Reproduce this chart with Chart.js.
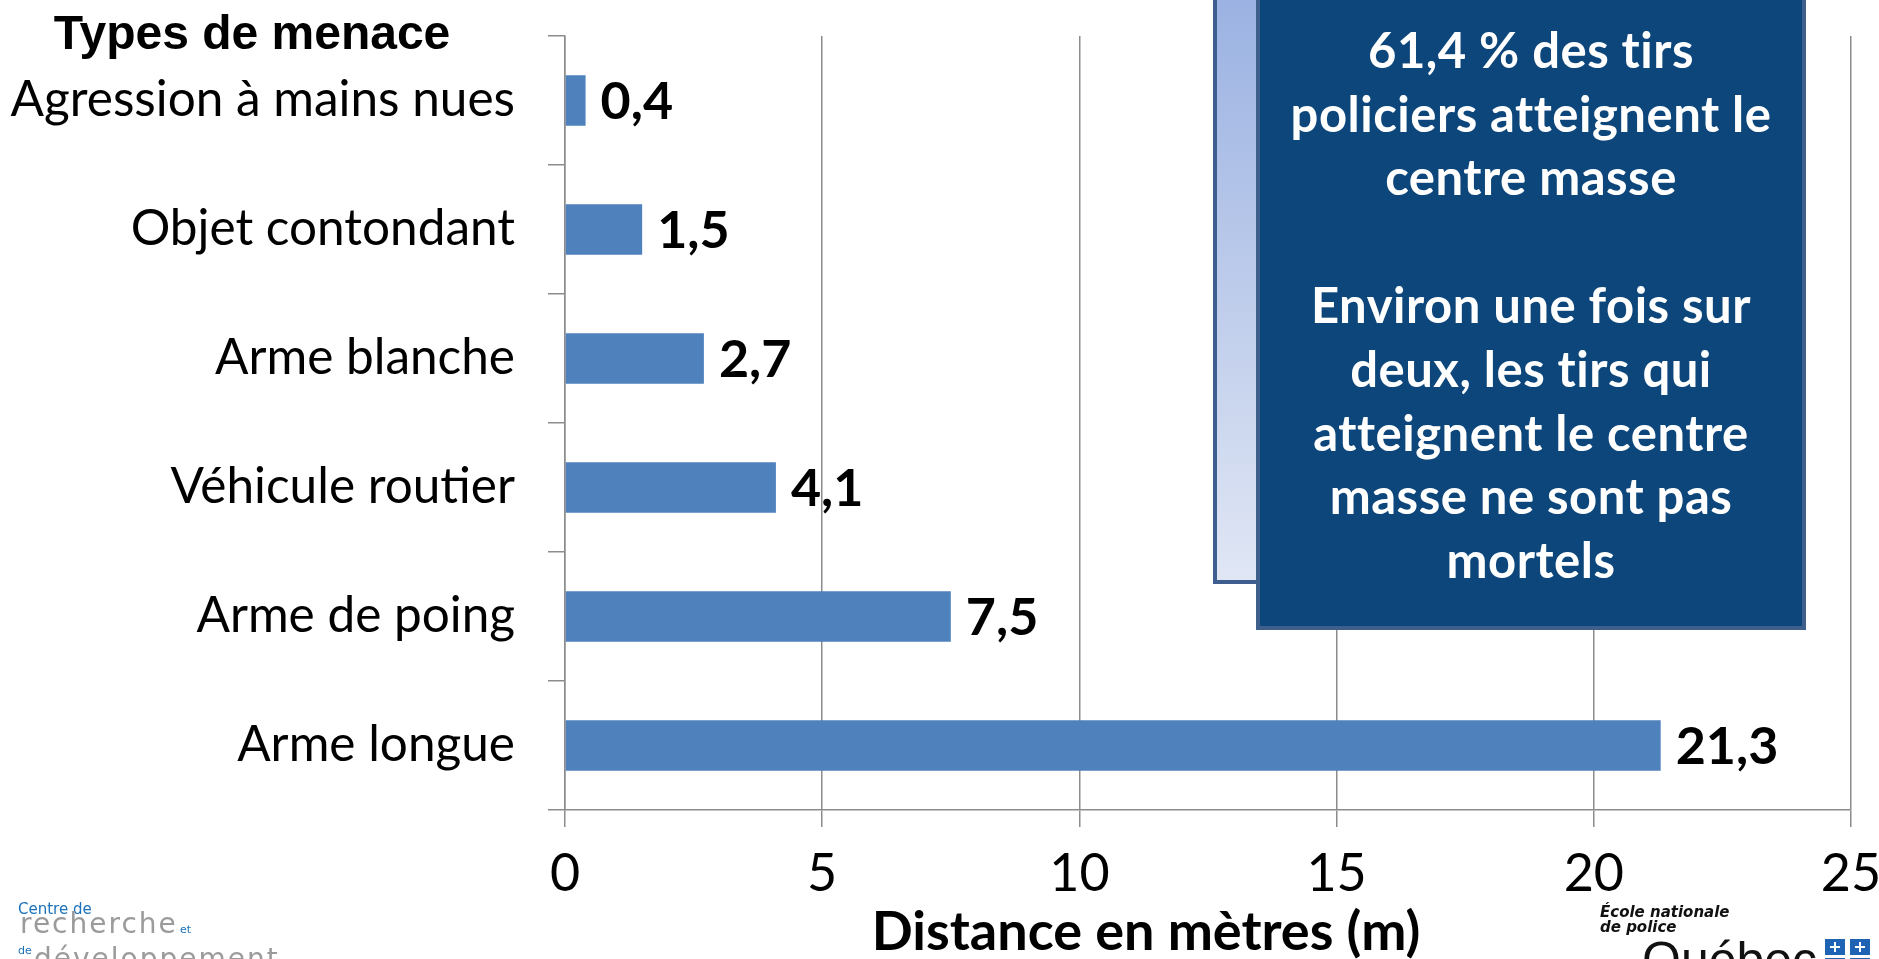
<!DOCTYPE html>
<html>
<head>
<meta charset="utf-8">
<script src="https://cdn.jsdelivr.net/npm/chart.js@4.4.1/dist/chart.umd.min.js"></script>
<style>
  html, body { margin: 0; padding: 0; background: #fff; overflow: hidden; }
</style>
</head>
<body>
<canvas id="myChart" width="1879" height="959"></canvas>
<script>
// Données du graphique
const categories = ['Agression à mains nues', 'Objet contondant', 'Arme blanche', 'Véhicule routier', 'Arme de poing', 'Arme longue'];
const distances = [0.4, 1.5, 2.7, 4.1, 7.5, 21.3];
const xTicks = [0, 5, 10, 15, 20, 25];
const yTitle = 'Types de menace';
const xTitle = 'Distance en mètres (m)';
const boxLines = ['61,4 % des tirs', 'policiers atteignent le', 'centre masse', '',
    'Environ une fois sur', 'deux, les tirs qui', 'atteignent le centre', 'masse ne sont pas', 'mortels'];

const fontMain = 'Lato, "Open Sans", sans-serif';

// Format 0,4 au lieu de 0.4
function frNum(v) {
    return v.toFixed(1).replace('.', ',');
}

// Étiquettes de valeur au bout des barres
const valueLabels = {
    id: 'valueLabels',
    afterDatasetsDraw(chart) {
        const ctx = chart.ctx;
        const meta = chart.getDatasetMeta(0);
        ctx.save();
        ctx.font = 'bold 52px ' + fontMain;
        ctx.fillStyle = '#000';
        ctx.textAlign = 'left';
        ctx.textBaseline = 'middle';
        meta.data.forEach((bar, i) => {
            ctx.fillText(frNum(distances[i]), bar.x + 15, bar.y + 2);
        });
        ctx.restore();
    }
};

// Titres, encadré et logos
const decorations = {
    id: 'decorations',
    afterDraw(chart) {
        const ctx = chart.ctx;
        ctx.save();

        // titre de l'axe des catégories
        ctx.font = 'bold 48px "Liberation Sans", Arial, sans-serif';
        ctx.fillStyle = '#000';
        ctx.textAlign = 'center';
        ctx.textBaseline = 'middle';
        ctx.fillText(yTitle, 252, 36);

        // titre de l'axe des x
        ctx.font = 'bold 54px ' + fontMain;
        ctx.fillText(xTitle, 1146, 933);

        // encadré clair derrière
        let grad = ctx.createLinearGradient(0, 0, 0, 582);
        grad.addColorStop(0, '#9bb2e2');
        grad.addColorStop(1, '#e0e6f4');
        ctx.fillStyle = grad;
        ctx.fillRect(1215, -10, 548, 592);
        ctx.strokeStyle = '#3d5e8e';
        ctx.lineWidth = 4;
        ctx.strokeRect(1215, -10, 548, 592);

        // encadré foncé
        ctx.fillStyle = '#0c467a';
        ctx.fillRect(1258, -10, 546, 638);
        ctx.strokeStyle = '#3f5f8c';
        ctx.strokeRect(1258, -10, 546, 638);

        ctx.fillStyle = '#fff';
        ctx.font = 'bold 49px ' + fontMain;
        ctx.letterSpacing = '0.5px';
        boxLines.forEach((line, i) => {
            ctx.fillText(line, 1531, 52 + i * 63.8);
        });
        ctx.letterSpacing = '0px';

        // logo gauche
        ctx.textAlign = 'left';
        ctx.textBaseline = 'alphabetic';
        ctx.fillStyle = '#1b72bb';
        ctx.font = '15px "DejaVu Sans", sans-serif';
        ctx.fillText('Centre de', 18, 914);
        ctx.font = '11px "DejaVu Sans", sans-serif';
        ctx.fillText('et', 180, 933);
        ctx.fillText('de', 18, 954);
        ctx.fillStyle = '#9b9b9b';
        ctx.font = '28px "DejaVu Sans", sans-serif';
        ctx.letterSpacing = '2px';
        ctx.fillText('recherche', 20, 933);
        ctx.fillText('développement', 34, 968);
        ctx.letterSpacing = '0px';

        // logo droite
        ctx.fillStyle = '#111';
        ctx.font = 'italic bold 15px "DejaVu Sans", sans-serif';
        ctx.fillText('École nationale', 1600, 917);
        ctx.fillText('de police', 1600, 932);
        ctx.font = '50px "Liberation Sans", Arial, sans-serif';
        ctx.fillText('Québec', 1642, 977);
        ctx.fillStyle = '#1f64b4';
        [[1825, 939], [1850, 939], [1825, 958], [1850, 958]].forEach(p => {
            ctx.fillRect(p[0], p[1], 20, 16);
        });
        ctx.fillStyle = '#fff';
        [[1825, 939], [1850, 939]].forEach(p => {
            ctx.fillRect(p[0] + 9, p[1] + 3, 2, 10);
            ctx.fillRect(p[0] + 5, p[1] + 7, 10, 2);
        });

        ctx.restore();
    }
};

var ctx = document.getElementById('myChart').getContext('2d');
var myChart = new Chart(ctx, {
    type: 'bar',
    data: {
        labels: categories,
        datasets: [{
            data: distances,
            backgroundColor: '#4f81bd',
            borderWidth: 0,
            barPercentage: 0.39,
            categoryPercentage: 1
        }]
    },
    options: {
        indexAxis: 'y',
        responsive: false,
        animation: false,
        devicePixelRatio: 1,
        layout: {
            padding: { left: 0, right: 28, top: 36, bottom: 0 }
        },
        plugins: {
            legend: { display: false },
            tooltip: { enabled: false },
            title: { display: false }
        },
        scales: {
            x: {
                min: xTicks[0],
                max: xTicks[xTicks.length - 1],
                afterBuildTicks: (scale) => {
                    scale.ticks = xTicks.map(v => ({ value: v }));
                },
                ticks: {
                    color: '#000',
                    padding: 16,
                    font: { family: fontMain, size: 52 }
                },
                grid: {
                    color: '#8c8c8c',
                    lineWidth: 1.5,
                    tickLength: 17
                },
                border: { color: '#8c8c8c', width: 1.5 },
                afterFit: (scale) => {
                    scale.height = 149;
                    scale.paddingLeft = 0;
                    scale.paddingRight = 0;
                }
            },
            y: {
                ticks: {
                    color: '#000',
                    padding: 33,
                    font: { family: fontMain, size: 49.5 }
                },
                grid: {
                    offset: true,
                    drawOnChartArea: false,
                    color: '#8c8c8c',
                    lineWidth: 1.5,
                    tickLength: 17
                },
                border: { color: '#8c8c8c', width: 1.5 },
                afterFit: (scale) => {
                    scale.width = 565;
                    scale.paddingTop = 0;
                    scale.paddingBottom = 0;
                }
            }
        }
    },
    plugins: [valueLabels, decorations]
});
</script>
</body>
</html>
